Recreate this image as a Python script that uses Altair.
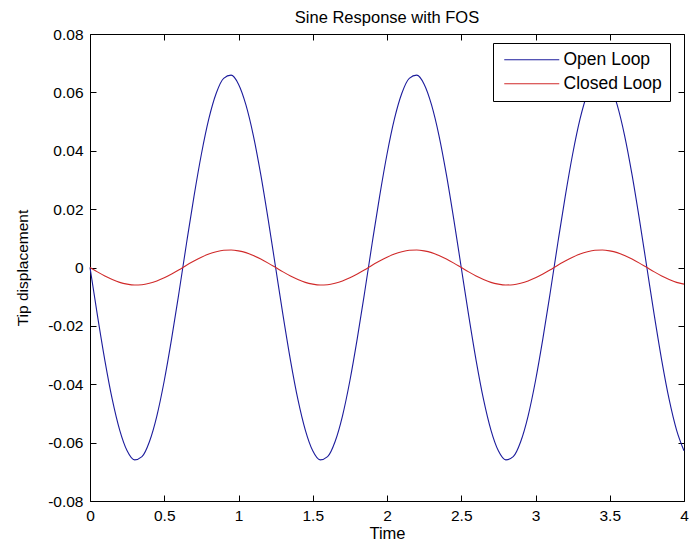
import altair as alt
import pandas as pd

# time samples (step 0.05 s)
time = [round(i * 0.05, 2) for i in range(81)]

# one period of Open Loop (25 samples), repeated over 4 s
open_period = [0.0, -0.0164, -0.0318, -0.0452, -0.0557, -0.0628, -0.0659, -0.0648,
               -0.0597, -0.0509, -0.0388, -0.0243, -0.0083, 0.0083, 0.0243, 0.0388,
               0.0509, 0.0597, 0.0648, 0.0659, 0.0628, 0.0557, 0.0452, 0.0318, 0.0164]
closed_period = [0.0, -0.0015, -0.0029, -0.0041, -0.0051, -0.0057, -0.0060, -0.0059,
                 -0.0054, -0.0046, -0.0035, -0.0022, -0.0008, 0.0008, 0.0022, 0.0035,
                 0.0046, 0.0054, 0.0059, 0.0060, 0.0057, 0.0051, 0.0041, 0.0029, 0.0015]

open_loop = [open_period[i % 25] for i in range(81)]
closed_loop = [closed_period[i % 25] for i in range(81)]

series_names = ["Open Loop", "Closed Loop"]
series_colors = ["#1c1c9c", "#d02a2a"]

x_ticks = [0, 0.5, 1, 1.5, 2, 2.5, 3, 3.5, 4]
y_ticks = [-0.08, -0.06, -0.04, -0.02, 0, 0.02, 0.04, 0.06, 0.08]

rows = []
for t, o, c in zip(time, open_loop, closed_loop):
    rows.append({"Time": t, "value": o, "series": series_names[0]})
    rows.append({"Time": t, "value": c, "series": series_names[1]})
df = pd.DataFrame(rows)

FONT = "Liberation Sans"
FS = 15.5

ylabel_expr = ("abs(datum.value) < 1e-9 ? '0' : "
               "(datum.value < 0 ? '-' : '') + format(abs(datum.value), '.2f')")

x_scale = alt.Scale(domain=[0, 4], nice=False, zero=False)
y_scale = alt.Scale(domain=[-0.08, 0.08], nice=False, zero=False)

main = alt.Chart(df).mark_line(strokeWidth=1.1, interpolate="monotone").encode(
    x=alt.X("Time:Q", scale=x_scale,
            axis=alt.Axis(values=x_ticks, format="~g", orient="bottom", offset=-6,
                          tickSize=6, tickColor="black", domain=False, grid=False,
                          labelPadding=7, labelFont=FONT, labelFontSize=FS,
                          labelColor="black", title="Time", titleFont=FONT,
                          titleFontSize=16.5, titleFontWeight="normal",
                          titleColor="black", titlePadding=2, labelFlush=False)),
    y=alt.Y("value:Q", scale=y_scale,
            axis=alt.Axis(values=y_ticks, labelExpr=ylabel_expr, orient="left",
                          offset=-6, tickSize=6, tickColor="black", domain=False,
                          grid=False, labelPadding=7, labelFont=FONT,
                          labelFontSize=FS, labelColor="black",
                          title="Tip displacement", titleFont=FONT,
                          titleFontSize=FS, titleFontWeight="normal",
                          titleColor="black", titlePadding=17, labelFlush=False)),
    color=alt.Color("series:N",
                    scale=alt.Scale(domain=series_names, range=series_colors),
                    sort=series_names,
                    legend=alt.Legend(title=None, orient="none", legendX=403,
                                      legendY=9, symbolType="M-1,0H9",
                                      symbolSize=121, symbolStrokeWidth=1.2,
                                      labelOffset=45, labelFont=FONT,
                                      labelFontSize=17.5, labelColor="black",
                                      rowPadding=5, padding=8,
                                      strokeColor="black", fillColor="white",
                                      cornerRadius=0)),
)

frame_ticks = alt.Chart(df).mark_line(opacity=0).encode(
    x=alt.X("Time:Q", scale=x_scale,
            axis=alt.Axis(values=x_ticks, orient="top", offset=-6, tickSize=6,
                          tickColor="black", domain=False, grid=False,
                          labels=False, title=None)),
    y=alt.Y("value:Q", scale=y_scale,
            axis=alt.Axis(values=y_ticks, orient="right", offset=-6, tickSize=6,
                          tickColor="black", domain=False, grid=False,
                          labels=False, title=None)),
    detail="series:N",
)

chart = alt.layer(main, frame_ticks).resolve_axis(
    x="independent", y="independent"
).properties(
    width=594,
    height=467,
    title=alt.TitleParams("Sine Response with FOS", font=FONT, fontSize=16.5,
                          fontWeight="normal", color="black", anchor="middle",
                          offset=1),
    autosize=alt.AutoSizeParams(type="none"),
    padding={"left": 82, "top": 26, "right": 5, "bottom": 41},
    background="white",
).configure_view(stroke="black", strokeWidth=1)

chart.save("out.html", embed_options={"renderer": "svg", "actions": False})
